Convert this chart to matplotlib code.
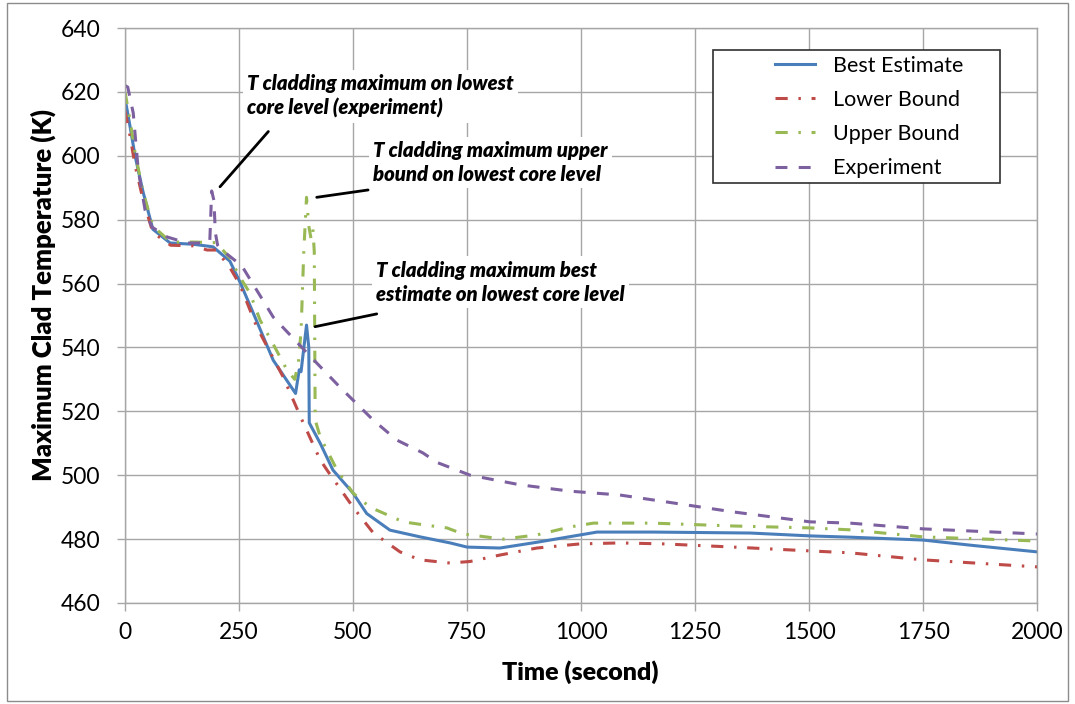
import numpy as np
import matplotlib
matplotlib.use("Agg")
import matplotlib.pyplot as plt
from matplotlib.patches import Rectangle

plt.rcParams['font.family'] = ['Lato', 'DejaVu Sans']

# data
time_be = [0, 10, 22, 39, 61, 99, 150, 193, 230, 252, 285, 325, 374, 382, 386, 398, 403, 404,
           428, 456, 500, 530, 581, 647, 713, 750, 822, 903, 998, 1035, 1158, 1371, 1502, 1590,
           1750, 1860, 2000]
best = [618, 610, 600, 589, 577, 572.7, 572.3, 571.5, 567, 560.5, 549.5, 536, 525.6, 533, 532.4,
        547, 540, 516.4, 510, 501.6, 494.4, 488, 482.8, 480.7, 478.8, 477.5, 477.2, 479, 481.3,
        482.2, 482.2, 481.9, 481, 480.6, 479.7, 478, 476]

time_lb = [0, 10, 22, 40, 61, 100, 150, 180, 200, 230, 252, 289, 347, 388, 428, 443, 500, 544,
           603, 647, 713, 757, 822, 903, 998, 1085, 1180, 1334, 1502, 1590, 1750, 2000]
lower = [614, 607, 597, 586, 576, 572, 571.8, 570.5, 570.5, 565, 559.6, 546.4, 530.7, 517.3,
         504.8, 501.6, 490, 482, 476, 473.5, 472.5, 473, 475, 477.2, 478.5, 478.8, 478.5, 477.5,
         476.3, 475.7, 473.5, 471.3]

time_ub = [0, 10, 22, 39, 61, 100, 150, 200, 230, 252, 274, 296, 325, 355, 372, 380, 386, 392,
           398, 403, 408, 412, 415, 417, 428, 465, 500, 537, 610, 658, 706, 741, 829, 903, 976,
           1027, 1158, 1334, 1502, 1590, 1750, 2000]
upper = [620, 612, 601, 589, 578, 573, 573, 572.8, 568, 562, 557, 548.6, 541, 533, 530, 535, 545,
         570, 587, 578, 574, 577, 570, 517.3, 512, 501.6, 494.4, 490, 485.4, 484.4, 483.5, 481.6,
         480, 481.3, 483.8, 485, 485, 484.1, 483.5, 482.9, 480.7, 479.4]

time_ex = [0, 6, 18, 29, 44, 59, 92, 136, 180, 186, 190, 195, 198, 203, 208, 245, 252, 325, 399,
           471, 522, 544, 596, 653, 684, 757, 866, 976, 1085, 1189, 1334, 1502, 1590, 1750, 2000]
experiment = [622, 621.5, 613.4, 595.5, 583, 577.7, 574.6, 572.7, 572.7, 573.6, 589, 586, 576,
              572, 571, 566.8, 566.5, 549.5, 538.3, 527.6, 520.4, 517.3, 511, 507, 504, 500, 497,
              495, 493.8, 491.6, 488.5, 485.4, 485, 483.2, 481.6]

series_names = ['Best Estimate', 'Lower Bound', 'Upper Bound', 'Experiment']
x_ticks = [0, 250, 500, 750, 1000, 1250, 1500, 1750, 2000]
y_ticks = [460, 480, 500, 520, 540, 560, 580, 600, 620, 640]

notes = ['T cladding maximum on lowest\ncore level (experiment)',
         'T cladding maximum upper\nbound on lowest core level',
         'T cladding maximum best\nestimate on lowest core level']
note_pos = [(267, 625.6), (544, 604.6), (550.5, 567.2)]
leader_start = [(314.3, 607.6), (533, 589.3), (552, 550.5)]
leader_end = [(208.3, 590.3), (420.4, 587.0), (416.7, 546.5)]

fig = plt.figure(figsize=(10.75, 7.04), dpi=100)
ax = fig.add_axes([0.1163, 0.1435, 0.8484, 0.8167])

lw = 2.2
ax.plot(time_be, best, color='#4a7ebb', lw=lw, label=series_names[0])
ax.plot(time_lb, lower, color='#be4b48', lw=lw, dashes=(4, 3.5, 0.8, 3.5), label=series_names[1])
ax.plot(time_ub, upper, color='#98b954', lw=lw, dashes=(4, 3.5, 0.8, 3.5), label=series_names[2])
ax.plot(time_ex, experiment, color='#7d60a0', lw=lw, dashes=(3.9, 3.7), label=series_names[3])

ax.set_xlim(0, 2000)
ax.set_ylim(460, 640)
ax.set_xticks(x_ticks)
ax.set_yticks(y_ticks)
ax.grid(True, color='#a6a6a6', lw=1)
ax.set_axisbelow(True)
for s in ax.spines.values():
    s.set_color('#a6a6a6')
    s.set_linewidth(1)
ax.tick_params(direction='out', length=5.5, width=1, color='#a6a6a6', labelsize=16.5)
ax.tick_params(axis='y', pad=12)
ax.tick_params(axis='x', pad=8)

ax.set_xlabel('Time (second)', fontsize=18, fontweight='heavy')
ax.set_ylabel('Maximum Clad Temperature (K)', fontsize=18.5, fontweight='heavy')
ax.xaxis.set_label_coords(0.499, -0.12)
ax.xaxis.label.set_va('center')
ax.yaxis.set_label_coords(-0.09, 0.536)
ax.yaxis.label.set_va('center')

# annotations
for txt, (tx, ty), p0, p1 in zip(notes, note_pos, leader_start, leader_end):
    ax.text(tx, ty, txt, fontsize=14.6, fontweight='heavy', fontstyle='italic', va='top', ha='left',
            linespacing=1.32, bbox=dict(facecolor='white', edgecolor='none', pad=3), zorder=4)
    ax.annotate('', xy=p1, xytext=p0, arrowprops=dict(arrowstyle='-', color='black', lw=2,
                                                       shrinkA=0, shrinkB=0), zorder=5)

# legend box
ax.add_patch(Rectangle((0.6447, 0.7304), 0.3147, 0.2313, transform=ax.transAxes,
                       facecolor='white', edgecolor='#303030', lw=1.2, zorder=5))
leg = ax.legend(loc='upper left', bbox_to_anchor=(0.7127, 0.952), frameon=False, fontsize=15.5,
                borderpad=0, borderaxespad=0, handlelength=1.85, handletextpad=0.82,
                labelspacing=0.66)
leg.set_zorder(6)

# outer border
fig.patches.append(Rectangle((0.0065, 0.004), 0.987, 0.992, transform=fig.transFigure,
                             fill=False, edgecolor='#8c8c8c', lw=1))

fig.savefig('out.png', dpi=100)
